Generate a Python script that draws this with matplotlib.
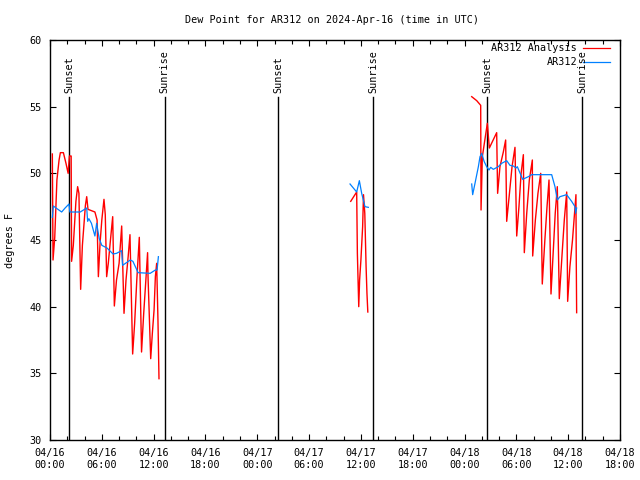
import numpy as np
import matplotlib
matplotlib.use("Agg")
import matplotlib.pyplot as plt

title = "Dew Point for AR312 on 2024-Apr-16 (time in UTC)"
ylabel = "degrees F"
series_names = ["AR312 Analysis", "AR312"]

# x values: hours since 2024-04-16 00:00 UTC
ana_t1 = [0.27, 0.35, 0.55, 0.8, 1.05, 1.2, 1.55, 1.85, 2.1, 2.25, 2.45, 2.5, 2.7, 3.0, 3.2, 3.35,
          3.55, 3.75, 4.1, 4.25, 4.4, 5.2, 5.45, 5.6, 5.8, 6.0, 6.25, 6.4, 6.56, 6.75, 7.0, 7.26,
          7.45, 7.7, 8.0, 8.3, 8.57, 8.8, 9.05, 9.26, 9.57, 9.8, 10.05, 10.34, 10.6, 10.85, 11.1, 11.3,
          11.35, 11.66, 11.85, 12.05, 12.2, 12.35, 12.5, 12.62]
ana_v1 = [51.45, 43.5, 45.2, 49.5, 51.0, 51.55, 51.55, 50.75, 50.0, 51.3, 51.3, 43.4, 44.6, 47.9, 49.0, 48.5,
          41.3, 44.6, 47.6, 48.25, 47.3, 47.1, 46.5, 42.25, 44.8, 46.5, 48.05, 46.9, 42.25, 43.25, 45.0, 46.75,
          40.05, 42.0, 43.25, 46.05, 39.5, 42.0, 43.75, 45.4, 36.45, 38.75, 42.0, 45.2, 36.6, 39.5, 42.0, 44.05,
          42.25, 36.1, 38.0, 39.75, 42.25, 43.25, 39.0, 34.6]

ana_t2 = [34.82, 35.51, 35.59, 35.75, 35.85, 36.0, 36.2, 36.3, 36.45, 36.6, 36.7, 36.8]
ana_v2 = [47.9, 48.6, 44.0, 40.0, 42.0, 43.5, 46.0, 48.4, 47.0, 43.0, 41.0, 39.6]

ana_t3 = [48.83, 49.41, 49.87, 49.91, 50.06, 50.64, 50.87, 51.72, 51.83, 52.1, 52.49, 52.76, 52.88,
          53.2, 53.5, 53.84, 54.04, 54.3, 54.55, 54.81, 54.92, 55.2, 55.5, 55.85, 55.89, 56.2,
          56.5, 56.82, 57.0, 57.3, 57.55, 57.78, 58.01, 58.3, 58.5, 58.74, 58.97, 59.3, 59.55,
          59.83, 59.94, 60.2, 60.5, 60.9, 60.93, 60.98]
ana_v3 = [55.75, 55.45, 55.1, 47.25, 51.25, 53.75, 51.9, 53.05, 48.5, 50.5, 51.6, 52.5, 46.4,
          48.5, 50.5, 51.95, 45.3, 47.5, 50.0, 51.4, 44.05, 47.0, 49.5, 51.0, 43.8, 46.5,
          48.5, 50.0, 41.7, 45.0, 47.5, 49.5, 40.95, 44.5, 47.0, 49.0, 40.6, 44.0, 46.5,
          48.6, 40.4, 43.0, 45.0, 48.4, 44.0, 39.55]

obs_t1 = [0.27, 0.39, 0.7, 1.35, 1.75, 2.2, 2.3, 3.5, 4.25, 4.36, 4.5, 4.8, 5.2, 5.4, 5.7, 6.0,
          6.6, 7.3, 7.7, 8.3, 8.4, 9.3, 9.6, 10.2, 11.6, 12.2, 12.4, 12.55]
obs_v1 = [46.7, 47.55, 47.4, 47.1, 47.4, 47.7, 47.1, 47.1, 47.4, 46.4, 46.6, 46.25, 45.3, 46.25, 45.1, 44.6,
          44.4, 43.95, 44.0, 44.2, 43.1, 43.5, 43.4, 42.55, 42.5, 42.75, 42.75, 43.75]

obs_t2 = [34.74, 35.51, 35.82, 36.09, 36.47, 36.86]
obs_v2 = [49.2, 48.6, 49.45, 48.5, 47.5, 47.45]

obs_t3 = [48.83, 48.94, 49.21, 49.6, 49.79, 49.99, 50.26, 50.56, 50.83, 51.03, 51.33, 51.91, 52.3,
          52.88, 53.26, 53.65, 53.96, 54.11, 54.73, 55.39, 55.78, 58.09, 58.47, 58.74, 59.05,
          59.82, 60.4, 60.79, 60.86, 60.98]
obs_v3 = [49.2, 48.4, 49.25, 50.5, 51.25, 51.5, 50.9, 50.5, 50.25, 50.45, 50.3, 50.5, 50.75,
          50.95, 50.6, 50.55, 50.4, 50.5, 49.55, 49.75, 49.9, 49.9, 49.0, 48.0, 48.25,
          48.4, 47.9, 47.5, 47.0, 47.4]

sun_hours = [2.2, 13.3, 26.4, 37.4, 50.6, 61.6]
sun_labels = ["Sunset", "Sunrise", "Sunset", "Sunrise", "Sunset", "Sunrise"]

xtick_hours = [0, 6, 12, 18, 24, 30, 36, 42, 48, 54, 60, 66]
xtick_labels = ["04/16\n00:00", "04/16\n06:00", "04/16\n12:00", "04/16\n18:00",
                "04/17\n00:00", "04/17\n06:00", "04/17\n12:00", "04/17\n18:00",
                "04/18\n00:00", "04/18\n06:00", "04/18\n12:00", "04/18\n18:00"]
ytick_vals = [30, 35, 40, 45, 50, 55, 60]


def join(*segs):
    t, v = [], []
    for i in range(0, len(segs), 2):
        if t:
            t.append(np.nan)
            v.append(np.nan)
        t += list(segs[i])
        v += list(segs[i + 1])
    return np.array(t, float), np.array(v, float)


plt.rcParams["font.family"] = ["DejaVu Sans Mono"]
plt.rcParams["font.size"] = 7.3

fig = plt.figure(figsize=(6.4, 4.8), dpi=100)
ax = fig.add_axes([50 / 640, 40 / 480, 570 / 640, 400 / 480])

at, av = join(ana_t1, ana_v1, ana_t2, ana_v2, ana_t3, ana_v3)
ot, ov = join(obs_t1, obs_v1, obs_t2, obs_v2, obs_t3, obs_v3)
ax.plot(at, av, color="#ff0000", lw=1.0, zorder=3)
ax.plot(ot, ov, color="#0080ff", lw=0.9, zorder=4)

ax.set_xlim(0, 66)
ax.set_ylim(30, 60)

for h, lab in zip(sun_hours, sun_labels):
    ax.plot([h, h], [30, 55.7], color="black", lw=1.0, zorder=2)
    ax.text(h, 56.05, lab, rotation=90, ha="center", va="bottom")

ax.set_xticks(xtick_hours)
ax.set_xticklabels(xtick_labels)
ax.set_xticks(np.arange(0, 67, 2), minor=True)
ax.set_yticks(ytick_vals)
ax.set_yticklabels([str(v) for v in ytick_vals])
ax.tick_params(which="both", direction="in", top=True, right=True, width=0.8)
ax.tick_params(which="major", length=4.5)
ax.tick_params(which="minor", length=3)
ax.tick_params(axis="x", pad=6)
ax.tick_params(axis="y", pad=6)
for s in ax.spines.values():
    s.set_linewidth(1.0)

# legend (key at right of text)
ax.text(0.9246, 0.98, series_names[0], transform=ax.transAxes, ha="right", va="center")
ax.plot([0.935, 0.982], [0.98, 0.98], transform=ax.transAxes, color="#ff0000", lw=0.9)
ax.text(0.9246, 0.945, series_names[1], transform=ax.transAxes, ha="right", va="center")
ax.plot([0.935, 0.982], [0.945, 0.945], transform=ax.transAxes, color="#0080ff", lw=0.9)

fig.text(332 / 640, 1 - 20 / 480, title, ha="center", va="center")
fig.text(10 / 640, 0.5, ylabel, rotation=90, ha="center", va="center")

fig.savefig("out.png", dpi=100)
